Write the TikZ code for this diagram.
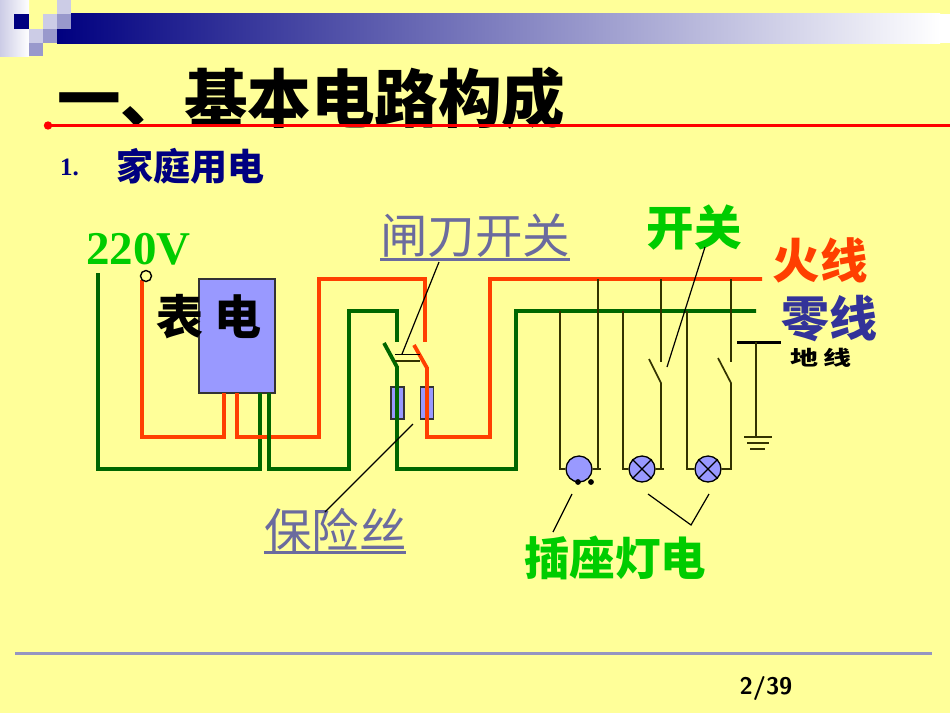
\documentclass[tikz,border=0pt]{standalone}
\usepackage{fontspec}
\setmainfont{Liberation Serif}
\newfontfamily\cjk{Noto Sans CJK SC}
\usepackage{graphicx}
\definecolor{slidebg}{HTML}{FFFF99}
\definecolor{navybar}{HTML}{000080}
\definecolor{lav}{HTML}{9999CC}
\definecolor{lavlight}{HTML}{CCCCE6}
\definecolor{boxblue}{HTML}{9999FF}
\definecolor{fire}{HTML}{FF3F00}
\definecolor{earthgreen}{HTML}{006600}
\definecolor{olive}{HTML}{333300}
\definecolor{labelgreen}{HTML}{00CC00}
\definecolor{labelgray}{HTML}{6B6B9E}
\definecolor{zeroblue}{HTML}{333399}

\begin{document}
\begin{tikzpicture}[x=1pt,y=-1pt]
  \tikzset{
    firewire/.style={draw=fire, line width=3.8pt},
    zerowire/.style={draw=earthgreen, line width=3.8pt},
    thinwire/.style={draw=olive, line width=1.7pt},
    leader/.style={draw=black, line width=1.2pt},
    fusebox/.style={rectangle, draw=black!80, line width=1.3pt, fill=boxblue, inner sep=0pt,
      minimum width=13pt, minimum height=32pt},
    lampbox/.style={circle, draw=black, line width=1.3pt, fill=boxblue, inner sep=0pt,
      minimum size=26pt},
    cn/.style={inner sep=0pt, font=\cjk\bfseries\fontsize{#1}{#1}\selectfont},
    cnlight/.style={inner sep=0pt, text=labelgray, font=\cjk\fontsize{47.5}{47.5}\selectfont},
    squarebox/.style={fill=#1, draw=none},
  }
  \useasboundingbox (0,0) rectangle (950,713);
  \fill[slidebg] (0,0) rectangle (950,713);

  % banner
  \shade[left color=navybar, right color=white] (57,13.5) rectangle (940,43);
  \fill[white] (940,13.5) rectangle (950,43);
  \shade[left color=lavlight, right color=white] (0,0) rectangle (29,56);
  \fill[squarebox=navybar] (14,14) rectangle (28.5,28.5);
  \fill[squarebox=lavlight] (57,0) rectangle (71,14);
  \fill[squarebox=lavlight] (43,14) rectangle (57,28.5);
  \fill[squarebox=lav] (57,14) rectangle (71,28.5);
  \fill[squarebox=lavlight] (29,28.5) rectangle (43,43);
  \fill[squarebox=lav] (43,28.5) rectangle (57,43);
  \fill[squarebox=lav] (29,43) rectangle (43,56);

  % title
  \node[cn=63.5, anchor=west] (title) at (57,98) {一、基本电路构成};
  \fill[red] (48,125.5) circle (4.2);
  \draw[red, line width=3pt] (48,125.5) -- (950,125.5);
  \node[inner sep=0pt, text=navybar, font=\bfseries\fontsize{25}{25}\selectfont, anchor=west] (num) at (60,167) {1.};
  \node[cn=37, text=navybar, anchor=west] (sub) at (116,166) {家庭用电};

  \foreach \n/\p in {supplyN/{98,273}, supplyL/{142,280}, meterLin/{224,393}, meterLout/{237,393},
      meterNin/{260,393}, meterNout/{269,393}, knifeNtop/{397,342}, knifeLtop/{425,342},
      busL/{762,279}, busN/{756,311}} {
    \coordinate (\n) at (\p);
  }

  % meter and fuses
  \node[rectangle, draw=black!80, line width=1.3pt, fill=boxblue, minimum width=76pt,
    minimum height=114pt, inner sep=0pt] (meter) at (237,336) {};
  \node[fusebox] (fuseN) at (397.5,403) {};
  \node[fusebox] (fuseL) at (427,403) {};

  % main wiring
  \draw[zerowire] (supplyN) -- (98,469) -- (260,469) -- (meterNin);
  \draw[firewire] (supplyL) -- (142,437) -- (224,437) -- (meterLin);
  \draw[firewire] (meterLout) -- (237,437) -- (319,437) -- (319,279) -- (425,279) -- (knifeLtop);
  \draw[zerowire] (meterNout) -- (269,469) -- (349,469) -- (349,311) -- (397,311) -- (knifeNtop);
  \draw[zerowire] (384,343) -- (397,367) -- (397,469) -- (516,469) -- (516,311) -- (busN);
  \draw[firewire] (414,345) -- (427,368) -- (427,437) -- (490,437) -- (490,279) -- (busL);
  \draw[draw=black, line width=1.2pt] (395,354.5) -- (420,354.5);
  \draw[draw=olive, line width=1.2pt] (395,361) -- (420,361);
  \draw[black, line width=1.4pt] (146,276) circle (5.5);

  % sockets and lamps
  \node[lampbox] (socket) at (579,469) {};
  \node[lampbox] (lampa) at (642,469) {};
  \node[lampbox] (lampb) at (708,469) {};
  \foreach \l in {lampa, lampb} {
    \draw[black, line width=1.3pt] (\l.45) -- (\l.225) (\l.135) -- (\l.315);
  }
  \fill (578,482) circle (2.9);
  \fill (591,482) circle (2.9);
  \draw[thinwire] (560,311) |- (socket.west);
  \draw[thinwire] (598,279) |- (socket.east);
  \draw[thinwire] (598,469) -- (600.5,469);
  \draw[thinwire] (623,311) |- (lampa.west);
  \draw[thinwire] (687,311) |- (lampb.west);
  \draw[thinwire] (661,279) -- (661,362);
  \draw[thinwire] (649,359) -- (661,383) -- (661,469) -- (lampa.east);
  \draw[thinwire] (661,469) -- (663.5,469);
  \draw[thinwire] (731,279) -- (731,362);
  \draw[thinwire] (718,358) -- (731,383) -- (731,469) -- (lampb.east);

  % earth
  \draw[black, line width=3pt] (737,342) -- (781,342);
  \draw[thinwire] (756,342) -- (756,437);
  \draw[thinwire] (744,437) -- (772,437);
  \draw[thinwire] (747,443) -- (769,443);
  \draw[thinwire] (750,449) -- (765,449);

  % labels
  \node[inner sep=0pt, text=labelgreen, font=\bfseries\fontsize{47}{47}\selectfont] (volt) at (138.5,249) {220V};
  \node[cn=47] (metertext) at (209,317) {表\hspace{11pt}电};
  \node[cnlight] (knifetext) at (475,236) {闸刀开关};
  \node[cnlight] (fusetext) at (335.5,530) {保险丝};
  \draw[labelgray, line width=2.4pt] (380,259.5) -- (570,259.5);
  \draw[labelgray, line width=2.4pt] (264,552.5) -- (406,552.5);
  \node[cn=47.5, text=labelgreen] (switchtext) at (694,228) {开关};
  \node[cn=47.5, text=fire] (firetext) at (820,260) {火线};
  \node[cn=48, text=zeroblue] (zerotext) at (829,319) {零线};
  \node[cn=28] (earthtext) at (821,358) {\scalebox{1}[.72]{地\hspace{5pt}线}};
  \node[cn=45.5, text=labelgreen] (plugtext) at (615,558) {插座灯电};

  % pointers
  \coordinate (knifetip) at (402,354);
  \coordinate (fusetip) at (413,424);
  \coordinate (switchtip) at (667,367);
  \coordinate (plugtip) at (572,494);
  \coordinate (bracket) at (691,525);
  \draw[leader] (439,262) -- (knifetip);
  \draw[leader] (fusetip) -- (325,512);
  \draw[leader] (705,247) -- (switchtip);
  \draw[leader] (plugtip) -- (553,532);
  \draw[leader] (648,494) -- (bracket) -- (709,494);

  % footer
  \draw[lav!85!gray, line width=3pt] (15,653) -- (932,653);
  \node[inner sep=0pt, font=\sffamily\bfseries\fontsize{24}{24}\selectfont] (page) at (766,688) {2/39};
\end{tikzpicture}
\end{document}
